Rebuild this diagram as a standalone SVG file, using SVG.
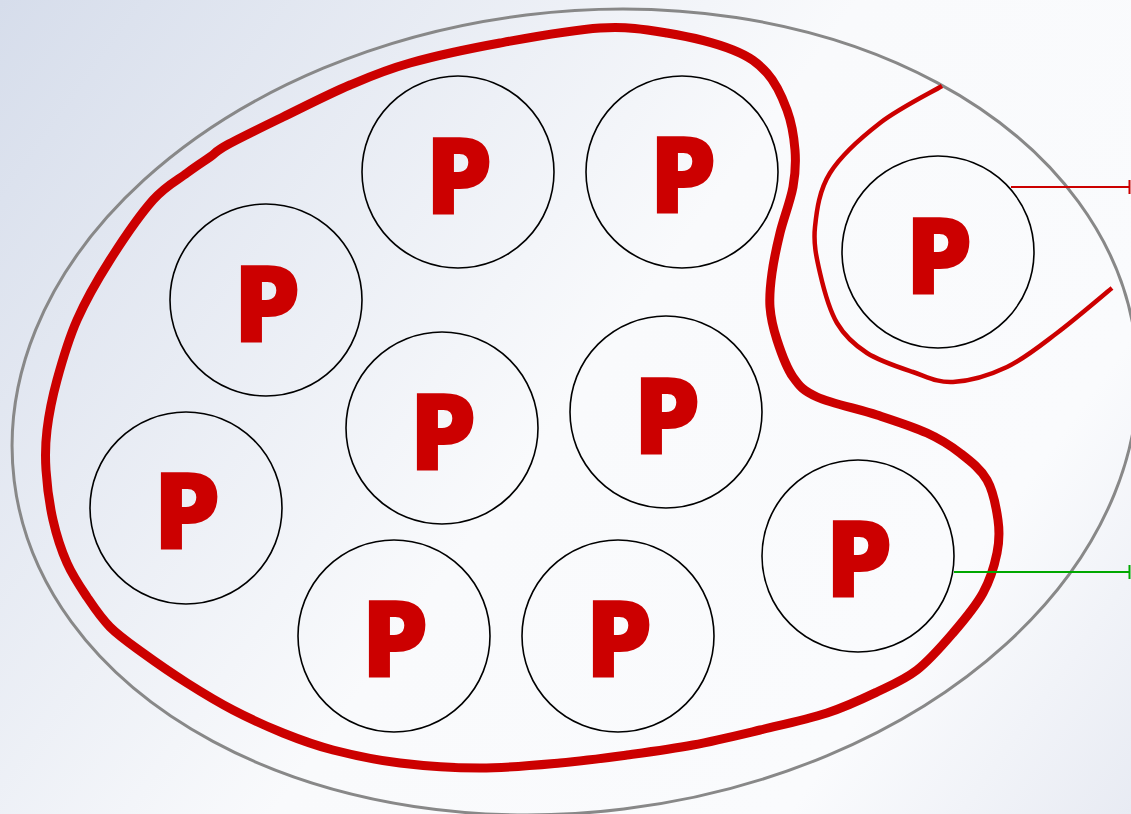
<svg xmlns="http://www.w3.org/2000/svg" width="1131" height="814" viewBox="0 0 1131 814">
<defs>
<linearGradient id="bg" gradientUnits="userSpaceOnUse" x1="0" y1="0" x2="1131" y2="814">
<stop offset="0" stop-color="#d6ddeb"/>
<stop offset="0.5" stop-color="#f9fafc"/>
<stop offset="0.8" stop-color="#fafbfd"/>
<stop offset="1" stop-color="#e8ebf3"/>
</linearGradient>
<marker id="barRed" viewBox="0 0 4 14" refX="2" refY="7" markerWidth="4" markerHeight="14" markerUnits="userSpaceOnUse" orient="auto">
<rect x="0.5" y="0" width="2" height="14" fill="#cc0000"/>
</marker>
<marker id="barGreen" viewBox="0 0 4 14" refX="2" refY="7" markerWidth="4" markerHeight="14" markerUnits="userSpaceOnUse" orient="auto">
<rect x="0.5" y="0" width="2" height="14" fill="#00a800"/>
</marker>
</defs>
<style>
.node circle{fill:none;stroke:#000;stroke-width:1.6}
.node text{font-family:"Open Sans","Noto Sans","Liberation Sans",sans-serif;font-weight:800;font-size:109px;fill:#cc0000;text-anchor:middle}
.outer{fill:none;stroke:#888;stroke-width:3}
.thick{fill:none;stroke:#cc0000;stroke-width:9;stroke-linejoin:round}
.thin{fill:none;stroke:#cc0000;stroke-width:4.5;stroke-linecap:butt}
</style>
<rect x="0" y="0" width="1131" height="814" fill="url(#bg)"/>
<g id="boundary">
<ellipse class="outer" cx="575" cy="412" rx="565" ry="400" transform="rotate(-7 575 412)"/>
<path class="thick" d="M600,28 C627.8,26.3 644.8,29.3 667,33 S716.3,43.3 733,50 S758,63 767,73 S782.3,97.2 787,110 S794,137.2 795,150 S795.5,173.2 793,187 S783.5,218.7 780,233 S773.7,260.7 772,273 S769.2,295.8 770,307 S773.2,328.3 777,340 S786.3,367.5 793,377 S803,390.7 817,397 S858.7,409 877,415 S913.2,426.7 927,433 S950,445.2 960,453 S980.7,468.8 987,480 S996.3,507.8 998,520 S999.5,540.8 997,553 S990.3,579.7 983,593 S964,620.2 953,633 S929.7,660.2 917,670 S892,684.8 877,692 S846.5,706.7 827,713 S782.3,724.7 760,730 S715.2,740.8 693,745 S649.2,752 627,755 S584.5,760.8 560,763 S506.7,768 480,768 S424.5,766 400,763 S352.5,755 333,750 S299.7,739.7 283,733 S249,718.3 233,710 S202,692.5 187,683 S155.8,662.3 143,653 S119.3,636.3 110,627 S94.2,607.7 87,597 S72.7,575.8 67,563 S56.5,535.5 53,520 S47,485 46,470 S45.2,445 47,430 S52,398.3 57,380 S68.2,340 77,320 S97.3,280 110,260 S140.2,214.5 153,200 S177.5,180.2 187,173 S203.3,161.7 210,157 S214.8,151.7 227,145 S262.5,127 283,117 S328.8,94 350,85 S385,70 410,63 S468.3,48.8 500,43 S572.2,29.7 600,28 Z"/>
<path class="thin" d="M942,86 C931.7,92.2 898.7,108.5 880,123 S840.8,155.7 830,173 S816.7,210.3 815,227 S816.3,257 820,273 S829.2,309.7 837,323 S854.3,344.8 867,353 S898.7,367.2 913,372 S937.3,382.8 953,382 S989.7,375.2 1007,367 S1039.5,346.2 1057,333 S1102.8,295.5 1112,288"/>
</g>
<g id="p1" class="node"><circle cx="458" cy="172" r="96"/><text x="459" y="215">P</text></g>
<g id="p2" class="node"><circle cx="682" cy="172" r="96"/><text x="683" y="214">P</text></g>
<g id="p3" class="node"><circle cx="266" cy="300" r="96"/><text x="267" y="343">P</text></g>
<g id="p4" class="node"><circle cx="938" cy="252" r="96"/><text x="939" y="295">P</text></g>
<g id="p5" class="node"><circle cx="442" cy="428" r="96"/><text x="443" y="471">P</text></g>
<g id="p6" class="node"><circle cx="666" cy="412" r="96"/><text x="667" y="455">P</text></g>
<g id="p7" class="node"><circle cx="186" cy="508" r="96"/><text x="187" y="550">P</text></g>
<g id="p8" class="node"><circle cx="394" cy="636" r="96"/><text x="395" y="678">P</text></g>
<g id="p9" class="node"><circle cx="618" cy="636" r="96"/><text x="619" y="678">P</text></g>
<g id="p10" class="node"><circle cx="858" cy="556" r="96"/><text x="859" y="598">P</text></g>
<g id="connectors">
<line x1="1011" y1="187" x2="1130" y2="187" stroke="#cc0000" stroke-width="2" marker-end="url(#barRed)"/>
<line x1="954" y1="572" x2="1130" y2="572" stroke="#00a800" stroke-width="2" marker-end="url(#barGreen)"/>
</g>
</svg>
